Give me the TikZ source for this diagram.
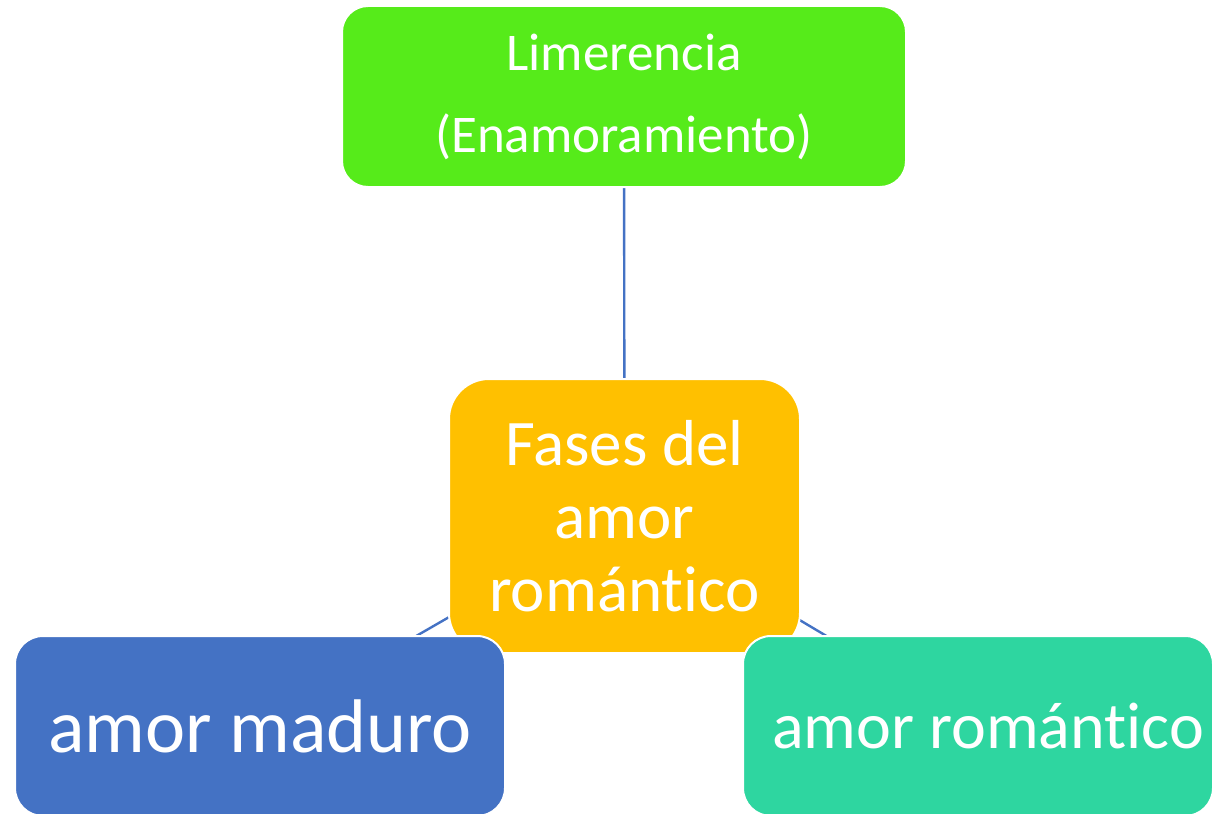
\documentclass[tikz,border=0pt]{standalone}
\usepackage{fontspec}
\setmainfont{Carlito}[Ligatures=NoCommon]
\usetikzlibrary{backgrounds}
\definecolor{cgreen}{RGB}{86,235,26}
\definecolor{corange}{RGB}{255,192,0}
\definecolor{cblue}{RGB}{68,114,196}
\definecolor{cteal}{RGB}{46,214,160}
\definecolor{cline}{RGB}{68,114,196}
\tikzset{
  box/.style={draw=white, line width=2pt, text=white, align=center, inner sep=0pt},
  conn/.style={draw=cline, line width=2.4pt},
}
\begin{document}
\begin{tikzpicture}[x=1pt,y=-1pt]
\useasboundingbox (0,0) rectangle (1214,813);
\node[box, fill=cgreen, rounded corners=26pt, minimum width=564pt, minimum height=181pt,
      font=\fontsize{53}{82}\selectfont] (top) at (624,96.5) {Limerencia\\(Enamoramiento)};
\node[box, fill=corange, rounded corners=40pt, minimum width=351pt, minimum height=274pt,
      font=\fontsize{65}{73}\selectfont] (center) at (624.5,516) {Fases del\\amor\\romántico};
\node[box, fill=cblue, rounded corners=28pt, minimum width=490pt, minimum height=180pt,
      font=\fontsize{76}{80}\selectfont] (left) at (260,726) {amor maduro};
\node[box, fill=cteal, rounded corners=28pt, minimum width=470pt, minimum height=180pt,
      font=\fontsize{66}{70}\selectfont] (right) at (978,726) {\hspace*{20pt}amor romántico};
\begin{scope}[on background layer]
\draw[conn] (top.center) -- (center.center);
\draw[conn] (center.center) -- (left.center);
\draw[conn] (center.center) -- (right.center);
\end{scope}
\end{tikzpicture}
\end{document}
